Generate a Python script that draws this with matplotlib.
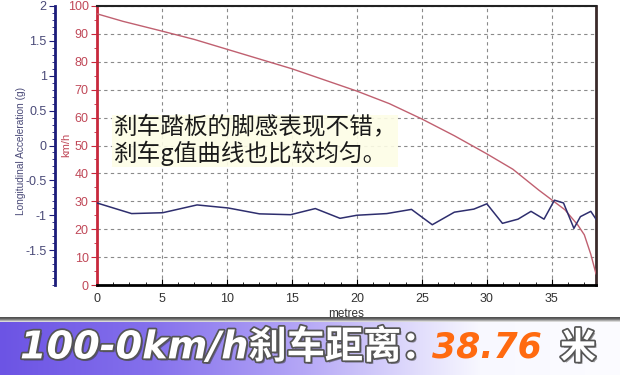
import numpy as np
import matplotlib
matplotlib.use("Agg")
import matplotlib.pyplot as plt
import matplotlib.patheffects as pe
from matplotlib.ticker import MultipleLocator

plt.rcParams['font.family'] = ['Liberation Sans', 'Noto Sans CJK SC', 'DejaVu Sans']

# ---- data ----
dist_speed = [0, 2, 5, 7.5, 10, 12.5, 15, 17.5, 20, 22.5, 25, 27.5, 30, 32, 34, 35, 36, 37, 37.5, 38, 38.4]
speed_kmh = [97.2, 94.5, 91, 88, 84.5, 81, 77.5, 73.5, 69.5, 65, 59.5, 53.5, 47, 41.5, 34, 30.5, 27, 21.5, 18, 11, 4]

dist_acc = [0, 2.66, 5.05, 7.7, 10.1, 12.5, 14.9, 16.8, 18.7, 20, 22.3, 24.2, 25.8, 27.5, 29, 30,
            31.2, 32.4, 33.4, 34.4, 35.2, 35.9, 36.7, 37.2, 38.0, 38.4]
accel_g = [-0.824, -0.976, -0.964, -0.852, -0.896, -0.98, -0.992, -0.904, -1.044, -1.0, -0.976, -0.916,
           -1.136, -0.956, -0.912, -0.836, -1.116, -1.056, -0.944, -1.056, -0.784, -0.824, -1.188, -1.02,
           -0.944, -1.056]

x_ticks = [0, 5, 10, 15, 20, 25, 30, 35]
speed_ticks = [0, 10, 20, 30, 40, 50, 60, 70, 80, 90, 100]
g_ticks = [-1.5, -1, -0.5, 0, 0.5, 1, 1.5, 2]
g_ticklabels = ['-1.5', '-1', '-0.5', '0', '0.5', '1', '1.5', '2']

note = "刹车踏板的脚感表现不错，\n刹车g值曲线也比较均匀。"
banner_a = "100-0km/h刹车距离："
banner_b = "38.76"
banner_c = "米"

W, H = 620, 375
fig = plt.figure(figsize=(6.2, 3.75), dpi=100)
fig.patch.set_facecolor('white')

red = '#c8283c'
red_txt = '#c04858'
navy = '#1c1c7a'
navy_txt = '#4a4a78'

# ---- main axes (km/h) ----
left, right, top, bottom = 97, 596, 6, 285
ax = fig.add_axes([left / W, 1 - bottom / H, (right - left) / W, (bottom - top) / H])
ax.plot(dist_speed, speed_kmh, color='#c06070', lw=1.0, zorder=3)
ax.set_xlim(0, 38.4)
ax.set_ylim(0, 100)
ax.set_xticks(x_ticks)
ax.xaxis.set_minor_locator(MultipleLocator(1.25))
ax.set_yticks(speed_ticks)
ax.yaxis.set_minor_locator(MultipleLocator(5))
ax.grid(True, which='major', color='#8a8a8a', linestyle=(0, (3, 3)), lw=0.8)
ax.tick_params(axis='x', which='major', direction='in', length=4, color='black', labelsize=9,
               labelcolor='#333333', pad=6)
ax.tick_params(axis='x', which='minor', direction='in', length=2.5, color='black')
ax.tick_params(axis='y', which='major', direction='out', length=4, color=red, labelsize=9,
               labelcolor=red_txt, pad=2)
ax.tick_params(axis='y', which='minor', direction='out', length=2, color=red)
ax.spines['left'].set_color(red)
ax.spines['left'].set_linewidth(2)
ax.spines['bottom'].set_color('black')
ax.spines['bottom'].set_linewidth(2)
ax.spines['top'].set_color('#222222')
ax.spines['top'].set_linewidth(1.5)
ax.spines['right'].set_color('#3a2a2a')
ax.spines['right'].set_linewidth(2)
ax.spines['right'].set_linestyle((0, (2, 1)))
ax.set_xlabel('metres', fontsize=8.5, color='#333333', labelpad=2)

# ---- acceleration axis ----
ax2 = ax.twinx()
ax2.plot(dist_acc, accel_g, color='#2e2e6e', lw=1.1, zorder=4)
ax2.set_ylim(-2, 2)
ax2.yaxis.set_ticks_position('left')
ax2.yaxis.set_label_position('left')
ax2.spines['left'].set_position(('axes', (55 - left) / (right - left)))
ax2.spines['left'].set_color(navy)
ax2.spines['left'].set_linewidth(2)
for s in ['right', 'top', 'bottom']:
    ax2.spines[s].set_visible(False)
ax2.set_yticks(g_ticks)
ax2.set_yticklabels(g_ticklabels)
ax2.yaxis.set_minor_locator(MultipleLocator(0.1))
ax2.tick_params(axis='y', which='major', direction='out', length=4, color=navy, labelsize=9,
                labelcolor=navy_txt, pad=2)
ax2.tick_params(axis='y', which='minor', direction='out', length=2, color=navy)

fig.text(21 / W, 1 - 151 / H, 'Longitudinal Acceleration (g)', rotation=90, fontsize=7.3,
         color=navy_txt, ha='center', va='center')
fig.text(66 / W, 1 - 145 / H, 'km/h', rotation=90, fontsize=8, color=red_txt,
         ha='center', va='center')

# ---- annotation ----
ax.text(0.032, 0.515, note, transform=ax.transAxes, fontsize=17, color='#1a1a1a',
        family=['Noto Sans CJK SC', 'DejaVu Sans'], ha='left', va='center', linespacing=1.05,
        zorder=6, bbox=dict(facecolor='#fdfde6', edgecolor='none', alpha=0.9, pad=1))

# ---- banner ----
bh = 58
bax = fig.add_axes([0, 0, 1, bh / H])
img = np.ones((bh, W, 3))
xs = np.arange(W)
stops_x = [0, 150, 300, 420, 480, 620]
stops_c = np.array([[108, 84, 228], [132, 112, 236], [180, 166, 246], [226, 222, 252],
                    [248, 248, 255], [252, 252, 255]]) / 255.0
for k in range(3):
    img[5:, :, k] = np.interp(xs, stops_x, stops_c[:, k])[None, :]
gray_rows = np.array([0.32, 0.38, 0.5, 0.68, 0.85])
for r in range(5):
    img[r, :, :] = gray_rows[r]
bax.imshow(img, extent=[0, W, 0, bh], aspect='auto', interpolation='bilinear')
bax.set_xlim(0, W)
bax.set_ylim(0, bh)
bax.axis('off')

effects = [pe.withSimplePatchShadow(offset=(1.5, -1.5), shadow_rgbFace='#333333', alpha=0.5),
           pe.withStroke(linewidth=2.5, foreground='#555555')]
ty = 27
bax.text(20, ty, banner_a, fontsize=27.5, fontweight='bold', fontstyle='italic', color='white',
         family=['DejaVu Sans', 'Noto Sans CJK SC'], ha='left', va='center', path_effects=effects)
bax.text(432, ty, banner_b, fontsize=25, fontweight='bold', fontstyle='italic', color='#ff6a10',
         family=['DejaVu Sans'], ha='left', va='center')
bax.text(560, ty, banner_c, fontsize=26, fontweight='bold', color='white',
         family=['Noto Sans CJK SC'], ha='left', va='center', path_effects=effects)

fig.savefig('out.png', dpi=100)
